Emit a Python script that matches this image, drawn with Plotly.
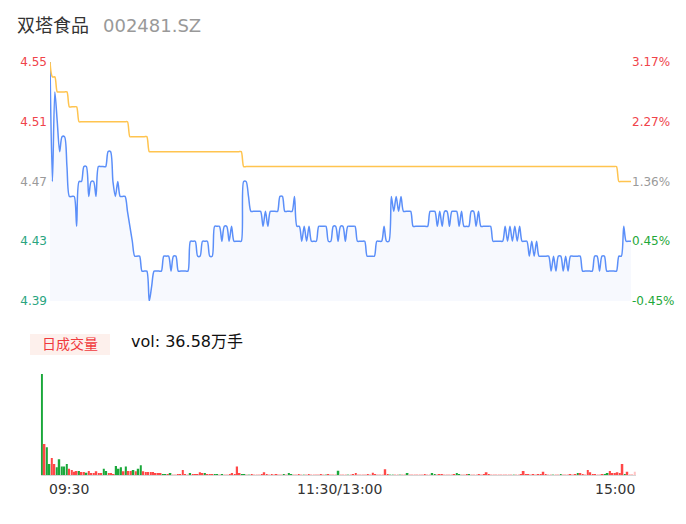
import plotly.graph_objects as go

# ---- data (one value per trading minute, 09:30 .. 15:00) ----
PREV_CLOSE = 4.41
TITLE_NAME = "双塔食品"
TITLE_CODE = "002481.SZ"
VOL_TEXT = "vol: 36.58万手"

price = [
    4.55, 4.47, 4.53, 4.51, 4.49, 4.50, 4.50, 4.48, 4.46, 4.46,
    4.46, 4.44, 4.47, 4.47, 4.48, 4.48, 4.46, 4.47, 4.47, 4.46,
    4.48, 4.48, 4.48, 4.48, 4.49, 4.49, 4.47, 4.46, 4.47, 4.46,
    4.46, 4.46, 4.45, 4.44, 4.43, 4.42, 4.42, 4.42, 4.41, 4.41,
    4.41, 4.39, 4.40, 4.41, 4.41, 4.41, 4.41, 4.42, 4.42, 4.42,
    4.41, 4.42, 4.42, 4.41, 4.41, 4.41, 4.41, 4.41, 4.43, 4.43,
    4.43, 4.42, 4.42, 4.43, 4.43, 4.43, 4.42, 4.42, 4.44, 4.44,
    4.44, 4.43, 4.44, 4.44, 4.43, 4.44, 4.43, 4.43, 4.43, 4.43,
    4.47, 4.47, 4.46, 4.45, 4.45, 4.45, 4.45, 4.45, 4.44, 4.45,
    4.44, 4.45, 4.45, 4.45, 4.45, 4.46, 4.46, 4.45, 4.45, 4.45,
    4.45, 4.46, 4.44, 4.44, 4.43, 4.44, 4.43, 4.44, 4.43, 4.43,
    4.43, 4.44, 4.44, 4.44, 4.44, 4.43, 4.43, 4.44, 4.44, 4.43,
    4.44, 4.44, 4.43, 4.44, 4.44, 4.44, 4.44, 4.43, 4.43, 4.43,
    4.43, 4.42, 4.42, 4.42, 4.42, 4.43, 4.43, 4.43, 4.44, 4.43,
    4.43, 4.46, 4.45, 4.46, 4.45, 4.46, 4.45, 4.45, 4.45, 4.45,
    4.44, 4.44, 4.44, 4.44, 4.44, 4.44, 4.44, 4.45, 4.45, 4.45,
    4.44, 4.45, 4.44, 4.45, 4.45, 4.44, 4.45, 4.45, 4.45, 4.44,
    4.45, 4.44, 4.44, 4.44, 4.45, 4.45, 4.44, 4.45, 4.44, 4.44,
    4.44, 4.44, 4.44, 4.43, 4.43, 4.43, 4.43, 4.43, 4.44, 4.43,
    4.44, 4.43, 4.44, 4.43, 4.44, 4.43, 4.43, 4.43, 4.42, 4.43,
    4.42, 4.43, 4.42, 4.42, 4.42, 4.42, 4.42, 4.41, 4.42, 4.41,
    4.42, 4.42, 4.41, 4.42, 4.41, 4.42, 4.42, 4.42, 4.42, 4.42,
    4.41, 4.41, 4.41, 4.41, 4.41, 4.42, 4.42, 4.41, 4.42, 4.42,
    4.41, 4.41, 4.41, 4.41, 4.41, 4.42, 4.42, 4.44, 4.43, 4.43,
    4.43,
]

avg_price = (
    [4.55, 4.54, 4.54]
    + [4.53] * 5
    + [4.52] * 4
    + [4.51] * 21
    + [4.50] * 8
    + [4.49] * 39
    + [4.48] * 155
    + [4.47] * 6
)

volume = [
    81800, 25100, 22400, 8900, 13800, 8900, 6200, 12700, 6800, 6800,
    8900, 5100, 4100, 2700, 3200, 3200, 2400, 2400, 1900, 3200,
    1400, 1400, 3000, 1400, 1400, 5100, 3200, 1400, 1400, 800,
    7300, 5100, 6200, 3000, 6800, 3200, 3200, 4100, 3000, 5100,
    7800, 3000, 2400, 2400, 2400, 2400, 1100, 1400, 1400, 800,
    500, 500, 1100, 300, 300, 500, 500, 4100, 800, 500,
    1600, 800, 800, 800, 2200, 1100, 1100, 800, 800, 800,
    500, 500, 500, 800, 500, 500, 500, 1400, 800, 6800,
    1400, 500, 500, 500, 300, 500, 500, 300, 500, 500,
    2200, 800, 500, 500, 300, 500, 500, 300, 500, 300,
    1400, 800, 500, 300, 500, 300, 500, 300, 500, 300,
    300, 500, 300, 500, 300, 300, 500, 300, 300, 500,
    3500, 300, 300, 500, 300, 300, 500, 1400, 300, 300,
    500, 300, 500, 300, 1900, 500, 300, 500, 300, 4600,
    800, 500, 300, 500, 300, 300, 500, 300, 1600, 300,
    500, 300, 300, 500, 300, 500, 300, 300, 1400, 800,
    300, 500, 500, 300, 300, 500, 300, 500, 1600, 500,
    300, 300, 500, 800, 300, 500, 300, 500, 300, 800,
    2200, 800, 300, 300, 500, 300, 300, 300, 500, 300,
    300, 300, 500, 300, 500, 3200, 500, 500, 300, 500,
    300, 500, 800, 2700, 800, 300, 500, 300, 500, 300,
    800, 300, 500, 300, 500, 300, 800, 1400, 1400, 500,
    500, 4100, 2200, 800, 500, 300, 500, 500, 800, 1600,
    3200, 1400, 1400, 2200, 1400, 8900, 800, 2700, 300, 300,
    2700,
]

# r = up minute, g = down minute, lr / lg = faint bars
vol_dir = [
    "g", "r", "g", "g", "r", "r", "g", "g", "g", "g",
    "g", "r", "r", "r", "r", "g", "r", "r", "g", "r",
    "r", "r", "r", "r", "r", "g", "g", "r", "r", "r",
    "g", "g", "g", "r", "g", "r", "r", "g", "r", "g",
    "g", "r", "r", "r", "r", "r", "r", "r", "r", "g",
    "g", "r", "g", "lr", "lr", "r", "r", "r", "r", "lr",
    "g", "r", "r", "r", "r", "r", "g", "r", "r", "r",
    "g", "g", "lr", "g", "lr", "lr", "r", "r", "r", "r",
    "r", "g", "g", "lr", "lg", "r", "lr", "lr", "lr", "r",
    "r", "r", "lr", "r", "lr", "r", "lr", "lr", "g", "lr",
    "g", "g", "lr", "lr", "r", "lr", "lg", "lr", "r", "lr",
    "lr", "lr", "lr", "r", "lr", "lg", "r", "lr", "lr", "lr",
    "g", "lr", "lr", "lr", "lg", "lr", "r", "r", "lr", "lr",
    "lr", "lr", "r", "lr", "r", "r", "lr", "lr", "lr", "r",
    "r", "lg", "lg", "lr", "lr", "lg", "lr", "lr", "g", "lr",
    "lr", "lr", "lr", "lr", "lr", "r", "lr", "lr", "g", "g",
    "lr", "r", "r", "lr", "lr", "lr", "lr", "r", "g", "g",
    "lr", "lr", "r", "g", "lr", "lr", "lr", "r", "lr", "r",
    "r", "r", "lr", "lr", "lr", "lr", "lr", "lr", "lr", "lr",
    "lr", "lg", "lr", "lr", "r", "r", "r", "r", "lr", "r",
    "lr", "r", "r", "r", "r", "lr", "lr", "lg", "lr", "lr",
    "g", "lr", "lr", "lr", "r", "lr", "r", "g", "r", "r",
    "lr", "r", "r", "r", "r", "lr", "lr", "r", "g", "g",
    "r", "r", "r", "r", "r", "r", "g", "r", "lr", "lr",
    "lr",
]

time_labels = ["09:30", "11:30/13:00", "15:00"]
price_ticks = [4.39, 4.43, 4.47, 4.51, 4.55]

minutes = list(range(len(price)))

# the page body adds an 8px margin, so the figure is drawn 16px smaller
OFF = 8
W, H = 686 - 2 * OFF, 524 - 2 * OFF
FONT = "DejaVu Sans, Noto Sans CJK SC, sans-serif"
RED, GREEN, GREY = "#f0434a", "#1fa83a", "#9a9a9a"
BAR_COLORS = {"r": "#ff4747", "g": "#1aa83a", "lr": "#ffc4c4", "lg": "#a8dfb3"}


def px_x(p):
    return (p - OFF) / W


def px_y(p):
    return (H - (p - OFF)) / H


def tick_color(v, left=True):
    if abs(v - 4.47) < 1e-9:
        return GREY
    if v > PREV_CLOSE + 0.05:
        return RED
    return "#2aa57f" if left else GREEN


left_text = ['<span style="color:%s">%.2f</span>' % (tick_color(v), v) for v in price_ticks]
right_text = ['<span style="color:%s">%.2f%%</span>' % (tick_color(v, False), (v / PREV_CLOSE - 1) * 100)
              for v in price_ticks]

fig = go.Figure()

fig.add_trace(go.Scatter(
    x=minutes, y=price, mode="lines", line=dict(color="#5b8ff9", width=1.5, shape="spline", smoothing=0.8),
    fill="tozeroy", fillcolor="#f7f9fe", xaxis="x", yaxis="y", hoverinfo="skip"))
fig.add_trace(go.Scatter(
    x=minutes, y=avg_price, mode="lines", line=dict(color="#ffc44f", width=1.5, shape="spline", smoothing=0.8),
    xaxis="x", yaxis="y2", hoverinfo="skip"))
fig.add_trace(go.Bar(
    x=minutes, y=volume, marker=dict(color=[BAR_COLORS[d] for d in vol_dir], line_width=0),
    xaxis="x2", yaxis="y3", hoverinfo="skip"))

fig.update_layout(
    width=W, height=H, template="none", showlegend=False,
    margin=dict(l=0, r=0, t=0, b=0),
    paper_bgcolor="white", plot_bgcolor="rgba(0,0,0,0)",
    font=dict(family=FONT, size=12, color="#333"),
    bargap=0.3,
    xaxis=dict(domain=[px_x(50), px_x(631)], range=[0, len(price) - 1], visible=False, anchor="y"),
    yaxis=dict(domain=[px_y(301), px_y(62)], range=[4.39, 4.55], tickvals=price_ticks, ticktext=left_text,
               showgrid=False, zeroline=False, showline=False, ticks="", anchor="x",
               ticklabelstandoff=2, tickfont=dict(size=12)),
    yaxis2=dict(overlaying="y", side="right", range=[4.39, 4.55], tickvals=price_ticks, ticktext=right_text,
                showgrid=False, zeroline=False, showline=False, ticks="", anchor="x",
                tickfont=dict(size=12)),
    xaxis2=dict(domain=[px_x(40.8), px_x(636)], range=[-0.5, len(volume) - 0.5], anchor="y3",
                showline=True, linecolor="#d6d6d6", linewidth=1, showticklabels=False, ticks="",
                showgrid=False, zeroline=False),
    yaxis3=dict(domain=[px_y(475), px_y(374)], range=[0, max(volume)], visible=False, anchor="x2"),
)

# header
fig.add_annotation(xref="paper", yref="paper", x=px_x(15), y=px_y(25), xanchor="left", yanchor="middle",
                   text=TITLE_NAME, showarrow=False, font=dict(size=18, color="#333"))
fig.add_annotation(xref="paper", yref="paper", x=px_x(101), y=px_y(25), xanchor="left", yanchor="middle",
                   text=TITLE_CODE, showarrow=False, font=dict(size=18, color="#999"))

# volume header
fig.add_shape(type="rect", xref="paper", yref="paper", x0=px_x(30), x1=px_x(110), y0=px_y(355), y1=px_y(334),
              fillcolor="#fdf0ec", line_width=0, layer="below")
fig.add_annotation(xref="paper", yref="paper", x=px_x(70), y=px_y(344), xanchor="center", yanchor="middle",
                   text="日成交量", showarrow=False, font=dict(size=14, color="#f0393c"))
fig.add_annotation(xref="paper", yref="paper", x=px_x(129), y=px_y(342), xanchor="left", yanchor="middle",
                   text=VOL_TEXT, showarrow=False, font=dict(size=16, color="#111"))

# time labels under the volume bars
for xv, lab, anc, sh in [(0, time_labels[0], "left", 5), (120, time_labels[1], "center", 1),
                         (len(volume) - 1, time_labels[2], "right", 2)]:
    fig.add_annotation(xref="x2", yref="paper", x=xv, y=px_y(489), xanchor=anc, yanchor="middle", xshift=sh,
                       text=lab, showarrow=False, font=dict(size=14, color="#333"))

fig.write_html("out.html")
